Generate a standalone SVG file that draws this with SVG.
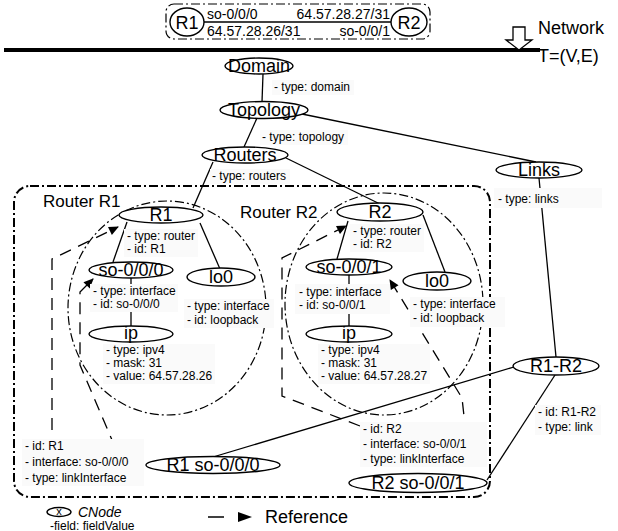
<svg xmlns="http://www.w3.org/2000/svg" width="618" height="531" viewBox="0 0 618 531">
<defs>
<style>
text{font-family:"Liberation Sans",Arial,sans-serif;fill:#000}
.n{font-size:18px;text-anchor:middle}
.l{font-size:12px}
.node{fill:#fff;stroke:#000;stroke-width:1.4}
.bg{fill:#fafafa}
.c{stroke:#000;stroke-width:1.3;fill:none}
.ref{stroke:#000;stroke-width:1.3;fill:none;stroke-dasharray:12 8;marker-end:url(#arr)}
.dd{fill:none;stroke:#000;stroke-width:1.2;stroke-dasharray:9 3 2 3}
.box{fill:none;stroke:#000;stroke-width:2;stroke-dasharray:9 3 2 3}
</style>
<marker id="arr" viewBox="0 0 10 10" refX="9" refY="5" markerWidth="11" markerHeight="10" markerUnits="userSpaceOnUse" orient="auto"><path d="M0,0.5 L10,5 L0,9.5 z" fill="#000"/></marker>
</defs>
<rect width="618" height="531" fill="#fff"/>

<!-- network example at top -->
<g id="network-example">
<rect class="dd" x="166" y="4" width="264" height="35" rx="8" stroke-width="1.5"/>
<line class="c" x1="204" y1="22" x2="391" y2="22"/>
<ellipse class="node" cx="187" cy="22" rx="17" ry="14"/>
<text class="n" x="187" y="29" font-size="19">R1</text>
<ellipse class="node" cx="409" cy="22" rx="18" ry="14"/>
<text class="n" x="409" y="29" font-size="19">R2</text>
<text x="207" y="19" font-size="14">so-0/0/0</text>
<text x="390" y="19" font-size="14" text-anchor="end">64.57.28.27/31</text>
<text x="207" y="36" font-size="14">64.57.28.26/31</text>
<text x="390" y="36" font-size="14" text-anchor="end">so-0/0/1</text>
</g>

<g id="network-abstraction">
<line x1="4" y1="50" x2="540" y2="50" stroke="#000" stroke-width="4"/>
<path d="M513,27 H525 V40 H532 L519,50 L506,40 H513 Z" fill="#fff" stroke="#000" stroke-width="1.3"/>
<text x="538" y="34" font-size="18">Network</text>
<text x="538" y="62" font-size="18">T=(V,E)</text>
</g>

<!-- containers -->
<g id="router-container">
<rect class="box" x="14" y="186" width="476" height="311" rx="16"/>
<text x="43" y="207" font-size="17">Router R1</text>
<text x="240" y="218" font-size="17">Router R2</text>
<ellipse class="dd" cx="167" cy="308" rx="99" ry="107"/>
<ellipse class="dd" cx="384" cy="304" rx="99" ry="111"/>
</g>

<!-- connectors -->
<g id="connectors">
<line class="c" x1="263" y1="74" x2="262" y2="102"/>
<line class="c" x1="257" y1="118" x2="244" y2="147"/>
<line class="c" x1="302" y1="114" x2="536" y2="162"/>
<line class="c" x1="213" y1="162" x2="193" y2="208"/>
<line class="c" x1="286" y1="158" x2="380" y2="204"/>
<line class="c" x1="539" y1="178" x2="556" y2="357"/>
<line class="c" x1="127" y1="222" x2="113" y2="262"/>
<line class="c" x1="200" y1="223" x2="220" y2="269"/>
<line class="c" x1="131" y1="278" x2="131" y2="326"/>
<line class="c" x1="348" y1="221" x2="337" y2="259"/>
<line class="c" x1="423" y1="215" x2="445" y2="272"/>
<line class="c" x1="349" y1="275" x2="349" y2="326"/>
<line class="c" x1="514" y1="367" x2="213" y2="457"/>
<line class="c" x1="555" y1="375" x2="487" y2="480"/>
<path class="ref" d="M52,430 L52,259 L118,227"/>
<path class="ref" d="M115,447 L80,365 L80,292 L93,279"/>
<path class="ref" d="M360,426 L282,396 L282,258 L346,226"/>
<path class="ref" d="M466,434 L462,398 L390,280"/>
</g>

<!-- nodes -->
<g id="domain">
<rect class="bg" x="272" y="80" width="82" height="15"/>
<text class="l" x="274" y="91">- type: domain</text>
<ellipse class="node" cx="259" cy="66" rx="34" ry="8"/>
<text class="n" x="259" y="72">Domain</text>
</g>
<g id="topology">
<rect class="bg" x="260" y="130" width="88" height="15"/>
<text class="l" x="262" y="141">- type: topology</text>
<ellipse class="node" cx="264" cy="110" rx="44" ry="8.5"/>
<text class="n" x="264" y="116">Topology</text>
</g>
<g id="routers">
<rect class="bg" x="210" y="169" width="80" height="15"/>
<text class="l" x="212" y="180">- type: routers</text>
<ellipse class="node" cx="245" cy="155" rx="43" ry="8"/>
<text class="n" x="245" y="161">Routers</text>
</g>
<g id="links">
<rect class="bg" x="494" y="188" width="108" height="20"/>
<text class="l" x="498" y="203">- type: links</text>
<ellipse class="node" cx="539" cy="170" rx="43" ry="8"/>
<text class="n" x="539" y="176">Links</text>
</g>

<g id="r1">
<rect class="bg" x="124" y="229" width="74" height="28"/>
<text class="l" x="127" y="240">- type: router</text>
<text class="l" x="127" y="253">- id: R1</text>
<ellipse class="node" cx="161" cy="215" rx="42" ry="8"/>
<text class="n" x="161" y="221">R1</text>
</g>
<g id="r1-so-0-0-0">
<rect class="bg" x="90" y="284" width="88" height="28"/>
<text class="l" x="93" y="295">- type: interface</text>
<text class="l" x="93" y="308">- id: so-0/0/0</text>
<ellipse class="node" cx="131" cy="270" rx="42" ry="8"/>
<text class="n" x="131" y="276">so-0/0/0</text>
</g>
<g id="r1-lo0">
<rect class="bg" x="184" y="299" width="90" height="29"/>
<text class="l" x="187" y="310">- type: interface</text>
<text class="l" x="187" y="324">- id: loopback</text>
<ellipse class="node" cx="221" cy="277" rx="34" ry="9"/>
<text class="n" x="221" y="283">lo0</text>
</g>
<g id="r1-ip">
<rect class="bg" x="103" y="344" width="112" height="40"/>
<text class="l" x="106" y="354">- type: ipv4</text>
<text class="l" x="106" y="367">- mask: 31</text>
<text class="l" x="106" y="380">- value: 64.57.28.26</text>
<ellipse class="node" cx="131" cy="334" rx="42" ry="8"/>
<text class="n" x="131" y="338.5">ip</text>
</g>

<g id="r2">
<rect class="bg" x="350" y="224" width="74" height="28"/>
<text class="l" x="353" y="235">- type: router</text>
<text class="l" x="353" y="248">- id: R2</text>
<ellipse class="node" cx="380" cy="212" rx="43" ry="9"/>
<text class="n" x="380" y="218">R2</text>
</g>
<g id="r2-so-0-0-1">
<rect class="bg" x="295" y="284" width="95" height="30"/>
<text class="l" x="299" y="296">- type: interface</text>
<text class="l" x="299" y="309">- id: so-0/0/1</text>
<ellipse class="node" cx="349" cy="267" rx="43" ry="8"/>
<text class="n" x="349" y="273">so-0/0/1</text>
</g>
<g id="r2-lo0">
<rect class="bg" x="410" y="297" width="95" height="30"/>
<text class="l" x="413" y="308">- type: interface</text>
<text class="l" x="413" y="322">- id: loopback</text>
<ellipse class="node" cx="437" cy="281" rx="34" ry="9"/>
<text class="n" x="437" y="287">lo0</text>
</g>
<g id="r2-ip">
<rect class="bg" x="318" y="344" width="112" height="40"/>
<text class="l" x="321" y="354">- type: ipv4</text>
<text class="l" x="321" y="367">- mask: 31</text>
<text class="l" x="321" y="380">- value: 64.57.28.27</text>
<ellipse class="node" cx="349" cy="334" rx="43" ry="8"/>
<text class="n" x="349" y="338.5">ip</text>
</g>

<g id="r1-r2">
<rect class="bg" x="535" y="405" width="66" height="30"/>
<text class="l" x="538" y="416">- id: R1-R2</text>
<text class="l" x="538" y="431">- type: link</text>
<ellipse class="node" cx="556" cy="366" rx="43" ry="9"/>
<text class="n" x="556" y="372">R1-R2</text>
</g>
<g id="r1-so-0-0-0-link">
<rect class="bg" x="22" y="439" width="122" height="47"/>
<text class="l" x="25" y="450">- id: R1</text>
<text class="l" x="25" y="466">- interface: so-0/0/0</text>
<text class="l" x="25" y="482">- type: linkInterface</text>
<ellipse class="node" cx="213" cy="465" rx="67" ry="8.5"/>
<text class="n" x="213" y="471">R1 so-0/0/0</text>
</g>
<g id="r2-so-0-0-1-link">
<rect class="bg" x="360" y="422" width="127" height="45"/>
<text class="l" x="363" y="433">- id: R2</text>
<text class="l" x="363" y="448">- interface: so-0/0/1</text>
<text class="l" x="363" y="463">- type: linkInterface</text>
<ellipse class="node" cx="418" cy="483" rx="69" ry="9.5"/>
<text class="n" x="418" y="489">R2 so-0/0/1</text>
</g>

<!-- legend -->
<g id="legend">
<ellipse class="node" cx="59" cy="512" rx="12" ry="4.5" stroke-width="1.2"/>
<text x="59" y="515" font-size="11" text-anchor="middle">x</text>
<text x="78" y="517" font-size="14" font-style="italic">CNode</text>
<text x="50" y="529.5" font-size="12">-field: fieldValue</text>
<line x1="208" y1="517" x2="224" y2="517" stroke="#000" stroke-width="1.5"/>
<path d="M238,512 L252,517 L238,522 z" fill="#000"/>
<text x="265" y="523" font-size="18">Reference</text>
</g>
</svg>
